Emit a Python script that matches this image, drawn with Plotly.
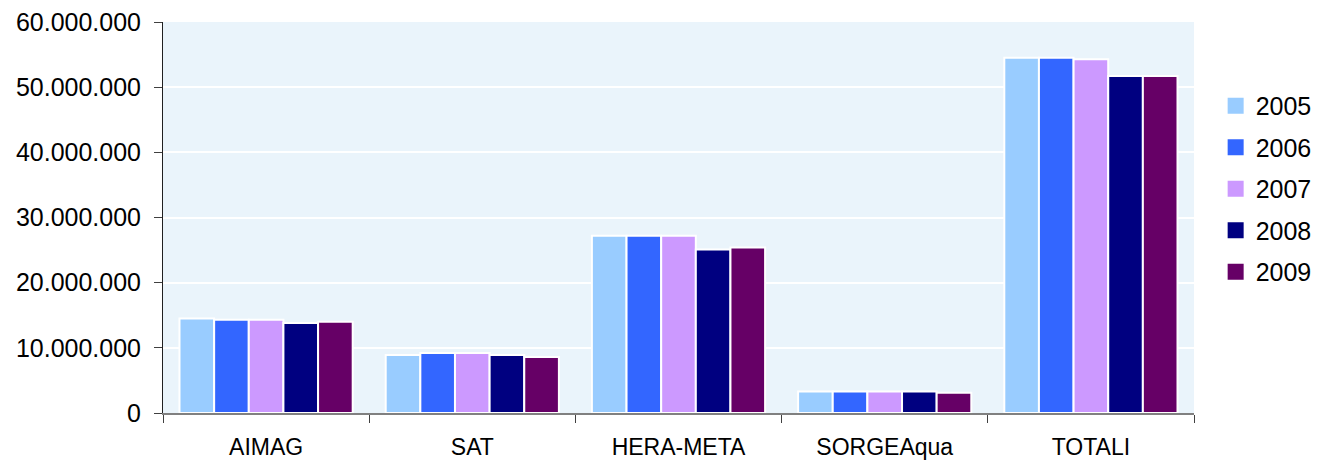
import plotly.graph_objects as go

categories = ["AIMAG", "SAT", "HERA-META", "SORGEAqua", "TOTALI"]
years = ["2005", "2006", "2007", "2008", "2009"]
values = {
    "2005": [14500000, 8900000, 27200000, 3300000, 54500000],
    "2006": [14300000, 9200000, 27200000, 3300000, 54500000],
    "2007": [14300000, 9200000, 27200000, 3300000, 54300000],
    "2008": [13800000, 8900000, 25100000, 3300000, 51700000],
    "2009": [14000000, 8600000, 25400000, 3100000, 51700000],
}
colors = ["#99CCFF", "#3366FF", "#CC99FF", "#000080", "#660066"]
y_ticks = [0, 10000000, 20000000, 30000000, 40000000, 50000000, 60000000]

fig = go.Figure()
for yr, col in zip(years, colors):
    fig.add_trace(go.Bar(
        x=categories, y=values[yr], name=yr, legendgroup=yr, showlegend=False,
        marker=dict(color=col, line=dict(color="white", width=2)),
    ))
# legend entries with larger square swatches
for yr, col in zip(years, colors):
    fig.add_trace(go.Scatter(
        x=[None], y=[None], mode="markers", name=yr, legendgroup=yr,
        marker=dict(symbol="square", size=16, color=col, line=dict(width=0)),
        hoverinfo="skip",
    ))

font_family = "Liberation Sans, Arial, sans-serif"
fig.update_layout(
    width=1320, height=461,
    margin=dict(l=155, r=134, t=14, b=56, autoexpand=False),
    paper_bgcolor="white",
    plot_bgcolor="#EAF4FB",
    separators=",.",
    barmode="group",
    bargap=0.16,
    bargroupgap=0,
    font=dict(family=font_family, size=24, color="#000000"),
    legend=dict(
        x=1.021, y=0.573, xanchor="left", yanchor="middle",
        font=dict(size=25, color="#000000"),
        tracegroupgap=6,
        itemsizing="trace",
        bgcolor="rgba(0,0,0,0)",
    ),
    xaxis=dict(
        automargin=False,
        showline=True, linecolor="#808080", linewidth=1.5,
        ticks="outside", tickson="boundaries", ticklen=8, tickcolor="#404040",
        tickfont=dict(size=23, color="#000000"),
        ticklabelstandoff=13,
        ticklabeloverflow="allow",
        showgrid=False,
    ),
    yaxis=dict(
        automargin=False,
        range=[0, 60000000],
        tickvals=y_ticks, tickformat=",d",
        showline=True, linecolor="#202020", linewidth=1,
        ticks="outside", ticklen=8, tickcolor="#404040",
        ticklabelstandoff=8,
        ticklabeloverflow="allow",
        gridcolor="white", gridwidth=2,
        tickfont=dict(size=25, color="#000000"),
        zeroline=False,
    ),
)

fig.write_html("out.html")
